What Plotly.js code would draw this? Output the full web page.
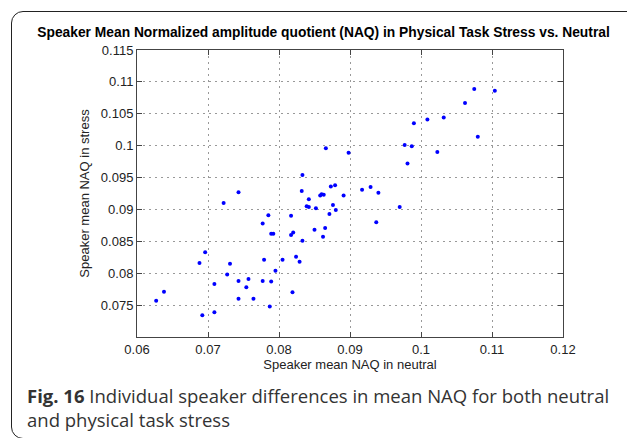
<!DOCTYPE html>
<html>
<head>
<meta charset="utf-8">
<script src="https://cdn.plot.ly/plotly-3.0.1.min.js"></script>
<style>
  body { margin: 0; background: #fff; }
  #frame {
    position: absolute; left: 11px; top: 11px; width: 640px; height: 426px;
    border: 1.5px solid #222; border-radius: 12px;
  }
  #plot { position: absolute; left: 0; top: 0; width: 627px; height: 438px; }
</style>
</head>
<body>
<div id="frame"></div>
<div id="plot"></div>
<script>
// speaker mean NAQ, neutral (x) vs physical task stress (y)
var naqNeutral = [
  0.0627, 0.0638, 0.0692, 0.0709, 0.0688, 0.0696, 0.0709, 0.0722, 0.0743, 0.0731,
  0.0727, 0.0743, 0.0757, 0.0754, 0.0743, 0.0764, 0.0777, 0.0789, 0.0787, 0.0779,
  0.0795, 0.0805, 0.0777, 0.0785, 0.0789, 0.0792, 0.0819, 0.0824, 0.0829, 0.0817,
  0.0820, 0.0833, 0.0817, 0.0832, 0.0833, 0.0866, 0.0842, 0.0839, 0.0842, 0.0852,
  0.0858, 0.0860, 0.0863, 0.0873, 0.0879, 0.0891, 0.0876, 0.0880, 0.0871, 0.0850,
  0.0865, 0.0862, 0.0898, 0.0917, 0.0929, 0.0940, 0.0937, 0.0970, 0.0977, 0.0987,
  0.0981, 0.0990, 0.1009, 0.1032, 0.1023, 0.1062, 0.1075, 0.1104, 0.1080
];
var naqStress = [
  0.0757, 0.0771, 0.0734, 0.0739, 0.0816, 0.0833, 0.0783, 0.0910, 0.0927, 0.0815,
  0.0798, 0.0788, 0.0791, 0.0778, 0.0760, 0.0760, 0.0788, 0.0787, 0.0748, 0.0821,
  0.0804, 0.0821, 0.0878, 0.0891, 0.0862, 0.0862, 0.0770, 0.0826, 0.0818, 0.0860,
  0.0864, 0.0851, 0.0890, 0.0929, 0.0954, 0.0996, 0.0916, 0.0905, 0.0904, 0.0902,
  0.0922, 0.0924, 0.0923, 0.0936, 0.0938, 0.0922, 0.0907, 0.0899, 0.0893, 0.0868,
  0.0871, 0.0857, 0.0989, 0.0931, 0.0935, 0.0926, 0.0880, 0.0904, 0.1001, 0.0999,
  0.0972, 0.1035, 0.1041, 0.1044, 0.0990, 0.1067, 0.1089, 0.1086, 0.1014
];

var xTicks = [0.06, 0.07, 0.08, 0.09, 0.1, 0.11, 0.12];
var yTicks = [0.075, 0.08, 0.085, 0.09, 0.095, 0.1, 0.105, 0.11, 0.115];

var trace = {
  x: naqNeutral,
  y: naqStress,
  mode: "markers",
  type: "scatter",
  marker: {color: "#0000ff", size: 4},
  hoverinfo: "skip"
};

var axisStyle = {
  showline: true, linecolor: "#444", linewidth: 1, mirror: "ticks",
  ticks: "inside", ticklen: 5, tickcolor: "#444",
  showgrid: true, gridcolor: "#999", griddash: "2px,4px", gridwidth: 1,
  zeroline: false, tickfont: {family: "Liberation Sans, Arial", size: 13, color: "#222"}
};

var layout = {
  width: 627, height: 438,
  margin: {l: 137, r: 64, t: 50, b: 101},
  paper_bgcolor: "rgba(0,0,0,0)",
  plot_bgcolor: "#fff",
  showlegend: false,
  title: {
    text: "<b>Speaker Mean Normalized amplitude quotient (NAQ) in Physical Task Stress vs. Neutral</b>",
    font: {family: "Liberation Sans, Arial", size: 13.8, color: "#000"},
    xref: "container", x: 0.516, xanchor: "center", y: 0.927, yanchor: "middle"
  },
  xaxis: Object.assign({}, axisStyle, {
    range: [0.06, 0.12], tickvals: xTicks,
    ticktext: xTicks.map(String),
    title: {text: "Speaker mean NAQ in neutral", standoff: 0,
            font: {family: "Liberation Sans, Arial", size: 13, color: "#222"}}
  }),
  yaxis: Object.assign({}, axisStyle, {
    range: [0.07, 0.115], tickvals: yTicks,
    ticktext: yTicks.map(String),
    title: {text: "Speaker mean NAQ in stress", standoff: 8,
            font: {family: "Liberation Sans, Arial", size: 13, color: "#222"}}
  }),
  annotations: [{
    xref: "paper", yref: "paper", x: -0.263, y: -0.153,
    xanchor: "left", yanchor: "top", align: "left", showarrow: false,
    text: "<b>Fig. 16</b> Individual speaker differences in mean NAQ for both neutral<br>and physical task stress",
    font: {family: "Open Sans", size: 18.5, color: "#333"}
  }]
};

Plotly.newPlot("plot", [trace], layout, {displayModeBar: false, staticPlot: true});
</script>
</body>
</html>
